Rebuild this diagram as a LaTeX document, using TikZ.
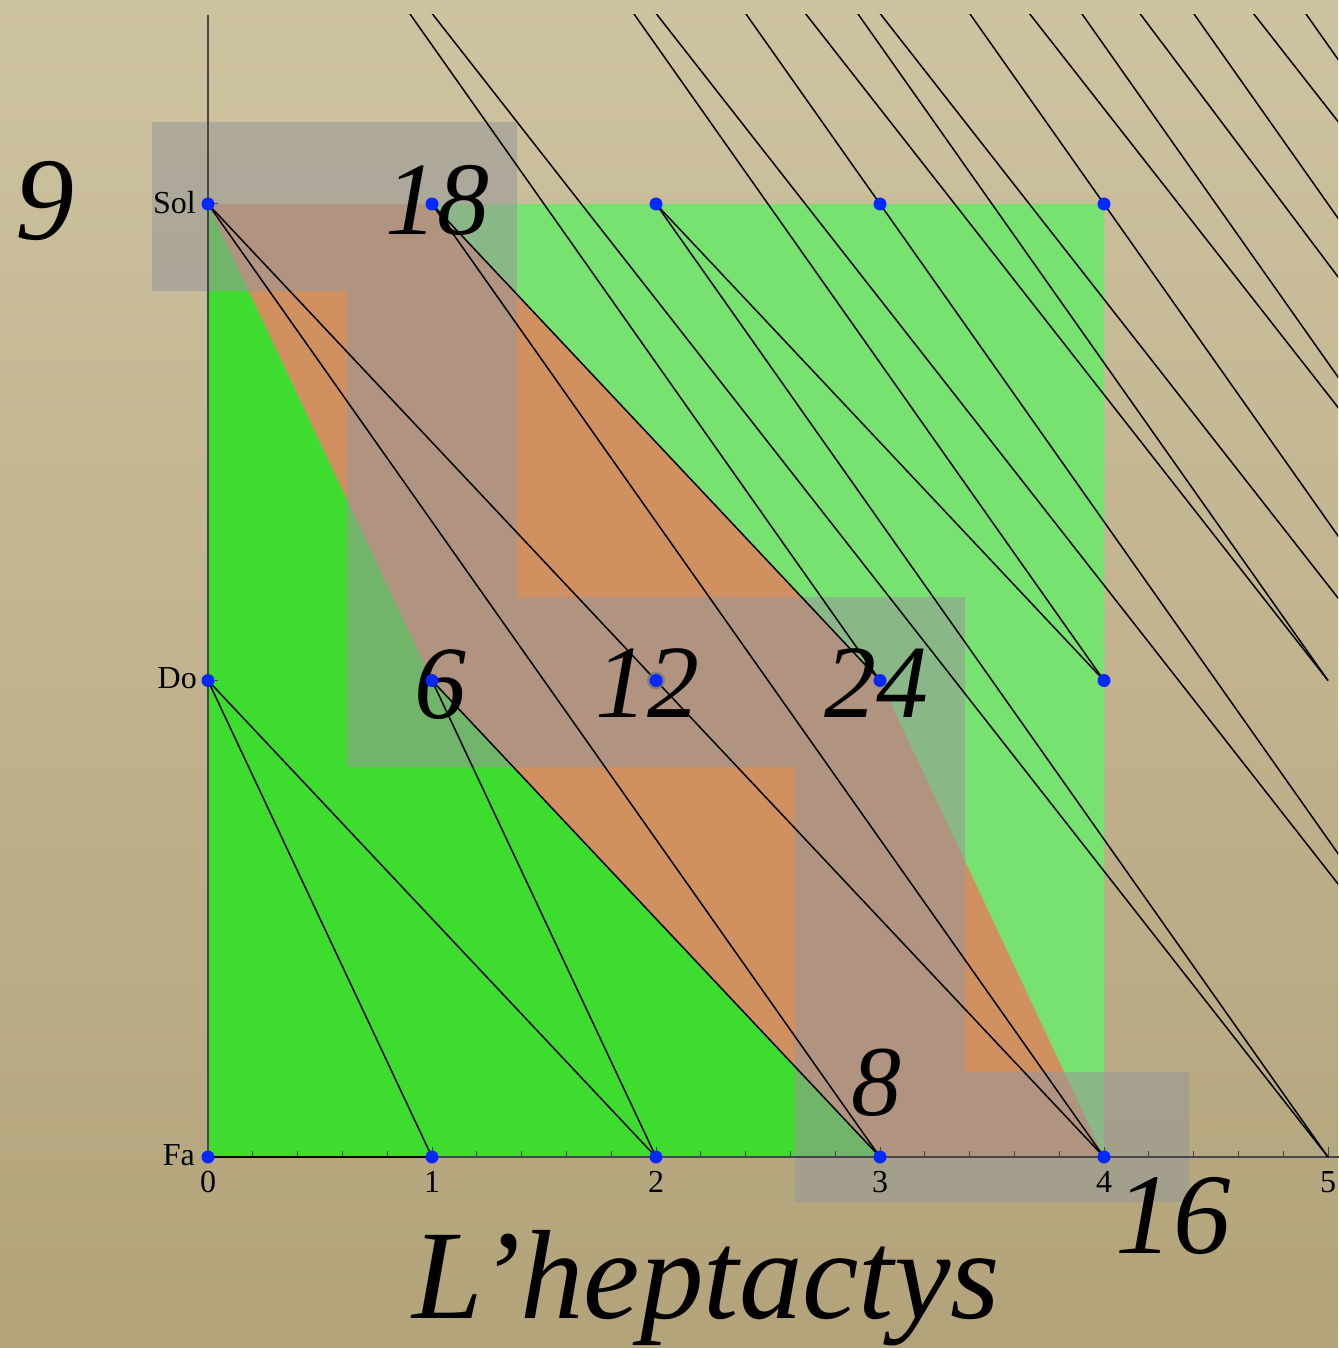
\documentclass[tikz,border=0pt]{standalone}
\usepackage{fontspec}
\setmainfont{Liberation Serif}
\definecolor{bgtop}{RGB}{206,195,160}
\definecolor{bgbot}{RGB}{178,163,122}
\definecolor{dkgreen}{RGB}{61,220,46}
\definecolor{ltgreen}{RGB}{120,226,113}
\definecolor{orfill}{RGB}{208,144,96}
\definecolor{ovgray}{RGB}{152,152,152}
\definecolor{dotblue}{RGB}{5,40,255}
\definecolor{axisgray}{RGB}{70,70,70}
\newcommand\bignum[1]{\fontsize{#1}{#1}\selectfont\itshape}
\newcommand\axfont{\fontsize{32}{32}\selectfont}
\begin{document}
\begin{tikzpicture}[x=1pt,y=-1pt,
  seg/.style={black, line width=1.5pt},
  axisline/.style={axisgray, line width=1.2pt},
  tickmark/.style={axisgray, line width=1pt},
  biglab/.style={inner sep=0pt, anchor=base, text=black},
  axlab/.style={inner sep=0pt, font=\axfont, text=black},
  overlay gray/.style={fill=ovgray, fill opacity=0.57},
]
\useasboundingbox (0,0) rectangle (1338,1348);
\shade[top color=bgtop,bottom color=bgbot] (0,0) rectangle (1338,1348);

\begin{scope}[shift={(208,1157)}, x=224pt, y=476.5pt]
  \foreach \i in {0,...,9}{\foreach \j in {0,...,6}{\coordinate (p\i\j) at (\i,\j);}}
  \coordinate (ytop) at (0,2.397);
  \coordinate (xend) at (5.2,0);
  % coloured regions
  \fill[dkgreen] (p00) -- (p02) -- (p11) -- (p30) -- cycle;
  \fill[ltgreen] (p12) -- (p42) -- (p40) -- (p31) -- cycle;
  \fill[orfill] (p02) -- (p12) -- (p31) -- (p40) -- (p30) -- (p11) -- cycle;
  % gray staircase
  \fill[overlay gray] (-0.25,2.172) -- (1.38,2.172) -- (1.38,1.175) -- (3.38,1.175)
     -- (3.38,0.178) -- (4.38,0.178) -- (4.38,-0.094) -- (2.62,-0.094)
     -- (2.62,0.818) -- (0.62,0.818) -- (0.62,1.817) -- (-0.25,1.817) -- cycle;
  % axes
  \draw[axisline] (p00) -- (ytop);
  \draw[axisline] (p00) -- (xend);
  \foreach \k in {1,...,25}{\draw[tickmark] (\k*0.2,0) -- ++(0pt,6pt);}
  \foreach \i in {0,...,5}{\draw[tickmark] (p\i0) -- ++(0pt,10pt);}
  \foreach \j in {0,1,2}{\draw[tickmark] (p0\j) -- ++(10pt,0pt);}
  \foreach \i in {0,...,5}{\node[axlab, anchor=base] (xl\i) at ([yshift=-35pt]p\i0) {\i};}
  \node[axlab, anchor=base east] (ysol) at ([xshift=-12pt,yshift=-10pt]p02) {Sol};
  \node[axlab, anchor=base east] (ydo) at ([xshift=-11pt,yshift=-8pt]p01) {Do};
  \node[axlab, anchor=base east] (yfa) at ([xshift=-13pt,yshift=-8pt]p00) {Fa};
\end{scope}

% big numbers
\node[biglab, font=\bignum{118}] (n9) at (45,240) {9};
\node[biglab, font=\bignum{104}] (n18) at (437,235) {18};
\node[biglab, font=\bignum{104}] (n6) at (440,718) {6};
\node[biglab, font=\bignum{104}] (n12) at (647,717) {12};
\node[biglab, font=\bignum{104}] (n24) at (876,717) {24};
\node[biglab, font=\bignum{100}] (n8) at (876,1115) {8};
\node[biglab, font=\bignum{115}] (n16) at (1173,1253) {16};
\node[biglab, font=\bignum{127}] (title) at (706,1318) {L’heptactys};

% chain of 2^a 3^b in increasing order
\begin{scope}
  \clip (0,15) rectangle (1338,1348);
  \foreach \a/\b in {p00/p10, p10/p01, p01/p20, p20/p11, p11/p30, p30/p02,
     p02/p21, p21/p40, p40/p12, p12/p31, p31/p03, p03/p50, p50/p22, p22/p41,
     p41/p13, p13/p60, p60/p32, p32/p04, p04/p51, p51/p23, p23/p70, p70/p42,
     p42/p14, p14/p61, p61/p33, p33/p05, p05/p80, p80/p52, p52/p24, p24/p71,
     p71/p43, p43/p15, p15/p90}
     {\draw[seg] (\a) -- (\b);}
\end{scope}

% points
\fill[black!55, opacity=0.7] (p21) circle[radius=9pt];
\foreach \i in {0,...,4}{\foreach \j in {0,1,2}{\fill[dotblue] (p\i\j) circle[radius=6.5pt];}}
\end{tikzpicture}
\end{document}
